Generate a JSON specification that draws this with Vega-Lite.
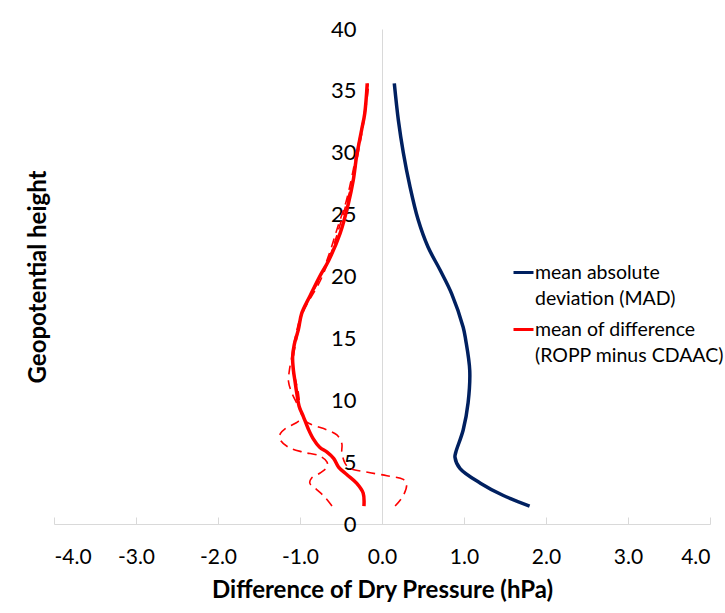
{
  "$schema": "https://vega.github.io/schema/vega-lite/v6.json",
  "width": 656,
  "height": 495,
  "autosize": "none",
  "padding": {"left": 54, "top": 29, "right": 15, "bottom": 89},
  "background": "white",
  "config": {
    "font": "Lato",
    "view": {"stroke": null}
  },
  "data": {
    "values": [
      {"series": "MAD", "y": 1.45, "x": 1.80},
      {"series": "MAD", "y": 2.3, "x": 1.48},
      {"series": "MAD", "y": 3.3, "x": 1.20},
      {"series": "MAD", "y": 4.5, "x": 0.95},
      {"series": "MAD", "y": 5.4, "x": 0.89},
      {"series": "MAD", "y": 5.8, "x": 0.90},
      {"series": "MAD", "y": 7.6, "x": 0.99},
      {"series": "MAD", "y": 9.8, "x": 1.05},
      {"series": "MAD", "y": 12.4, "x": 1.07},
      {"series": "MAD", "y": 14.9, "x": 1.02},
      {"series": "MAD", "y": 15.9, "x": 0.99},
      {"series": "MAD", "y": 18.6, "x": 0.85},
      {"series": "MAD", "y": 20.5, "x": 0.71},
      {"series": "MAD", "y": 22.4, "x": 0.56},
      {"series": "MAD", "y": 24.6, "x": 0.44},
      {"series": "MAD", "y": 27.3, "x": 0.34},
      {"series": "MAD", "y": 30.0, "x": 0.26},
      {"series": "MAD", "y": 32.6, "x": 0.20},
      {"series": "MAD", "y": 35.6, "x": 0.15},
      {"series": "MEAN", "y": 1.45, "x": -0.22},
      {"series": "MEAN", "y": 2.5, "x": -0.23},
      {"series": "MEAN", "y": 3.3, "x": -0.31},
      {"series": "MEAN", "y": 4.0, "x": -0.43},
      {"series": "MEAN", "y": 4.6, "x": -0.53},
      {"series": "MEAN", "y": 5.3, "x": -0.59},
      {"series": "MEAN", "y": 5.8, "x": -0.67},
      {"series": "MEAN", "y": 6.2, "x": -0.76},
      {"series": "MEAN", "y": 6.9, "x": -0.84},
      {"series": "MEAN", "y": 7.7, "x": -0.90},
      {"series": "MEAN", "y": 8.7, "x": -0.96},
      {"series": "MEAN", "y": 9.5, "x": -1.01},
      {"series": "MEAN", "y": 10.6, "x": -1.04},
      {"series": "MEAN", "y": 11.5, "x": -1.06},
      {"series": "MEAN", "y": 12.4, "x": -1.08},
      {"series": "MEAN", "y": 13.5, "x": -1.09},
      {"series": "MEAN", "y": 14.5, "x": -1.07},
      {"series": "MEAN", "y": 15.7, "x": -1.02},
      {"series": "MEAN", "y": 17.0, "x": -0.98},
      {"series": "MEAN", "y": 18.4, "x": -0.88},
      {"series": "MEAN", "y": 20.0, "x": -0.76},
      {"series": "MEAN", "y": 21.3, "x": -0.65},
      {"series": "MEAN", "y": 23.5, "x": -0.51},
      {"series": "MEAN", "y": 25.9, "x": -0.41},
      {"series": "MEAN", "y": 27.8, "x": -0.35},
      {"series": "MEAN", "y": 29.7, "x": -0.31},
      {"series": "MEAN", "y": 31.8, "x": -0.25},
      {"series": "MEAN", "y": 33.2, "x": -0.21},
      {"series": "MEAN", "y": 35.6, "x": -0.18},
      {"series": "DASH_A", "y": 1.45, "x": -0.61},
      {"series": "DASH_A", "y": 2.2, "x": -0.70},
      {"series": "DASH_A", "y": 2.8, "x": -0.80},
      {"series": "DASH_A", "y": 3.3, "x": -0.88},
      {"series": "DASH_A", "y": 3.7, "x": -0.86},
      {"series": "DASH_A", "y": 4.1, "x": -0.76},
      {"series": "DASH_A", "y": 4.6, "x": -0.67},
      {"series": "DASH_A", "y": 5.0, "x": -0.67},
      {"series": "DASH_A", "y": 5.5, "x": -0.76},
      {"series": "DASH_A", "y": 5.8, "x": -0.96},
      {"series": "DASH_A", "y": 6.2, "x": -1.14},
      {"series": "DASH_A", "y": 6.8, "x": -1.24},
      {"series": "DASH_A", "y": 7.3, "x": -1.24},
      {"series": "DASH_A", "y": 7.7, "x": -1.18},
      {"series": "DASH_A", "y": 8.3, "x": -1.02},
      {"series": "DASH_A", "y": 8.7, "x": -0.97},
      {"series": "DASH_A", "y": 9.5, "x": -1.02},
      {"series": "DASH_A", "y": 10.6, "x": -1.10},
      {"series": "DASH_A", "y": 11.5, "x": -1.14},
      {"series": "DASH_A", "y": 12.4, "x": -1.13},
      {"series": "DASH_A", "y": 13.5, "x": -1.10},
      {"series": "DASH_A", "y": 15.0, "x": -1.06},
      {"series": "DASH_A", "y": 17.0, "x": -0.98},
      {"series": "DASH_A", "y": 19.7, "x": -0.77},
      {"series": "DASH_A", "y": 21.9, "x": -0.64},
      {"series": "DASH_A", "y": 24.0, "x": -0.54},
      {"series": "DASH_A", "y": 26.0, "x": -0.44},
      {"series": "DASH_A", "y": 28.0, "x": -0.37},
      {"series": "DASH_A", "y": 30.0, "x": -0.31},
      {"series": "DASH_A", "y": 33.0, "x": -0.22},
      {"series": "DASH_A", "y": 35.6, "x": -0.17},
      {"series": "DASH_B", "y": 1.45, "x": 0.16},
      {"series": "DASH_B", "y": 2.3, "x": 0.26},
      {"series": "DASH_B", "y": 3.2, "x": 0.30},
      {"series": "DASH_B", "y": 3.6, "x": 0.26},
      {"series": "DASH_B", "y": 3.9, "x": 0.06},
      {"series": "DASH_B", "y": 4.2, "x": -0.19},
      {"series": "DASH_B", "y": 4.5, "x": -0.39},
      {"series": "DASH_B", "y": 4.9, "x": -0.45},
      {"series": "DASH_B", "y": 5.8, "x": -0.49},
      {"series": "DASH_B", "y": 6.5, "x": -0.49},
      {"series": "DASH_B", "y": 7.2, "x": -0.55},
      {"series": "DASH_B", "y": 7.6, "x": -0.67},
      {"series": "DASH_B", "y": 8.1, "x": -0.88},
      {"series": "DASH_B", "y": 8.5, "x": -0.96},
      {"series": "DASH_B", "y": 9.5, "x": -1.00},
      {"series": "DASH_B", "y": 10.6, "x": -1.02},
      {"series": "DASH_B", "y": 11.5, "x": -1.05},
      {"series": "DASH_B", "y": 12.4, "x": -1.08},
      {"series": "DASH_B", "y": 13.5, "x": -1.08},
      {"series": "DASH_B", "y": 15.0, "x": -1.04},
      {"series": "DASH_B", "y": 17.0, "x": -0.97},
      {"series": "DASH_B", "y": 19.7, "x": -0.75},
      {"series": "DASH_B", "y": 21.9, "x": -0.62},
      {"series": "DASH_B", "y": 24.0, "x": -0.52},
      {"series": "DASH_B", "y": 26.0, "x": -0.43},
      {"series": "DASH_B", "y": 28.0, "x": -0.35},
      {"series": "DASH_B", "y": 30.0, "x": -0.29},
      {"series": "DASH_B", "y": 33.0, "x": -0.21},
      {"series": "DASH_B", "y": 35.6, "x": -0.16}
    ]
  },
  "encoding": {
    "x": {
      "field": "x", "type": "quantitative",
      "scale": {"domain": [-4, 4], "nice": false, "zero": false},
      "axis": {
        "title": "Difference of Dry Pressure (hPa)",
        "values": [-4, -3, -2, -1, 0, 1, 2, 3, 4],
        "labelExpr": "(datum.value < 0 ? '-' : '') + format(abs(datum.value), '.1f')",
        "grid": false,
        "domainColor": "#d9d9d9",
        "tickColor": "#d9d9d9",
        "tickSize": -7,
        "labelFontSize": 21,
        "labelColor": "black",
        "labelPadding": 29,
        "titleFontSize": 24,
        "titleFontWeight": "bold",
        "titleColor": "black",
        "titlePadding": 11
      }
    },
    "y": {
      "field": "y", "type": "quantitative",
      "scale": {"domain": [0, 40], "nice": false},
      "axis": {
        "title": "Geopotential height",
        "values": [0, 5, 10, 15, 20, 25, 30, 35, 40],
        "grid": false,
        "ticks": false,
        "offset": -328,
        "domainColor": "#d9d9d9",
        "labelFontSize": 22,
        "labelColor": "black",
        "labelPadding": 26,
        "titleFontSize": 24,
        "titleFontWeight": "bold",
        "titleColor": "black",
        "titleAngle": -90,
        "titleX": -344,
        "titleY": 247.5,
        "titleAlign": "center",
        "titleBaseline": "middle"
      }
    },
    "order": {"field": "y", "type": "quantitative"}
  },
  "layer": [
    {
      "transform": [{"filter": "datum.series == 'DASH_A' || datum.series == 'DASH_B'"}],
      "mark": {"type": "line", "color": "#ff0000", "strokeWidth": 1.6, "strokeDash": [9, 6], "interpolate": "catmull-rom"},
      "encoding": {"detail": {"field": "series"}}
    },
    {
      "transform": [{"filter": "datum.series == 'MAD' || datum.series == 'MEAN'"}],
      "mark": {"type": "line", "strokeWidth": 3.5, "interpolate": "catmull-rom"},
      "encoding": {
        "color": {
          "field": "series", "type": "nominal",
          "scale": {"domain": ["MAD", "MEAN"], "range": ["#002060", "#ff0000"]},
          "legend": {
            "title": null,
            "orient": "none",
            "legendX": 458,
            "legendY": 232,
            "symbolType": "stroke",
            "symbolSize": 400,
            "symbolStrokeWidth": 3,
            "labelFontSize": 19.5,
            "labelColor": "black",
            "labelLimit": 400,
            "labelOffset": 0,
            "labelExpr": "datum.label == 'MAD' ? ['mean absolute', 'deviation (MAD)'] : ['mean of difference', '(ROPP minus CDAAC)']",
            "labelBaseline": "middle",
            "rowPadding": 10,
            "encode": {"labels": {"update": {"lineHeight": {"value": 26}}}}
          }
        }
      }
    }
  ]
}
